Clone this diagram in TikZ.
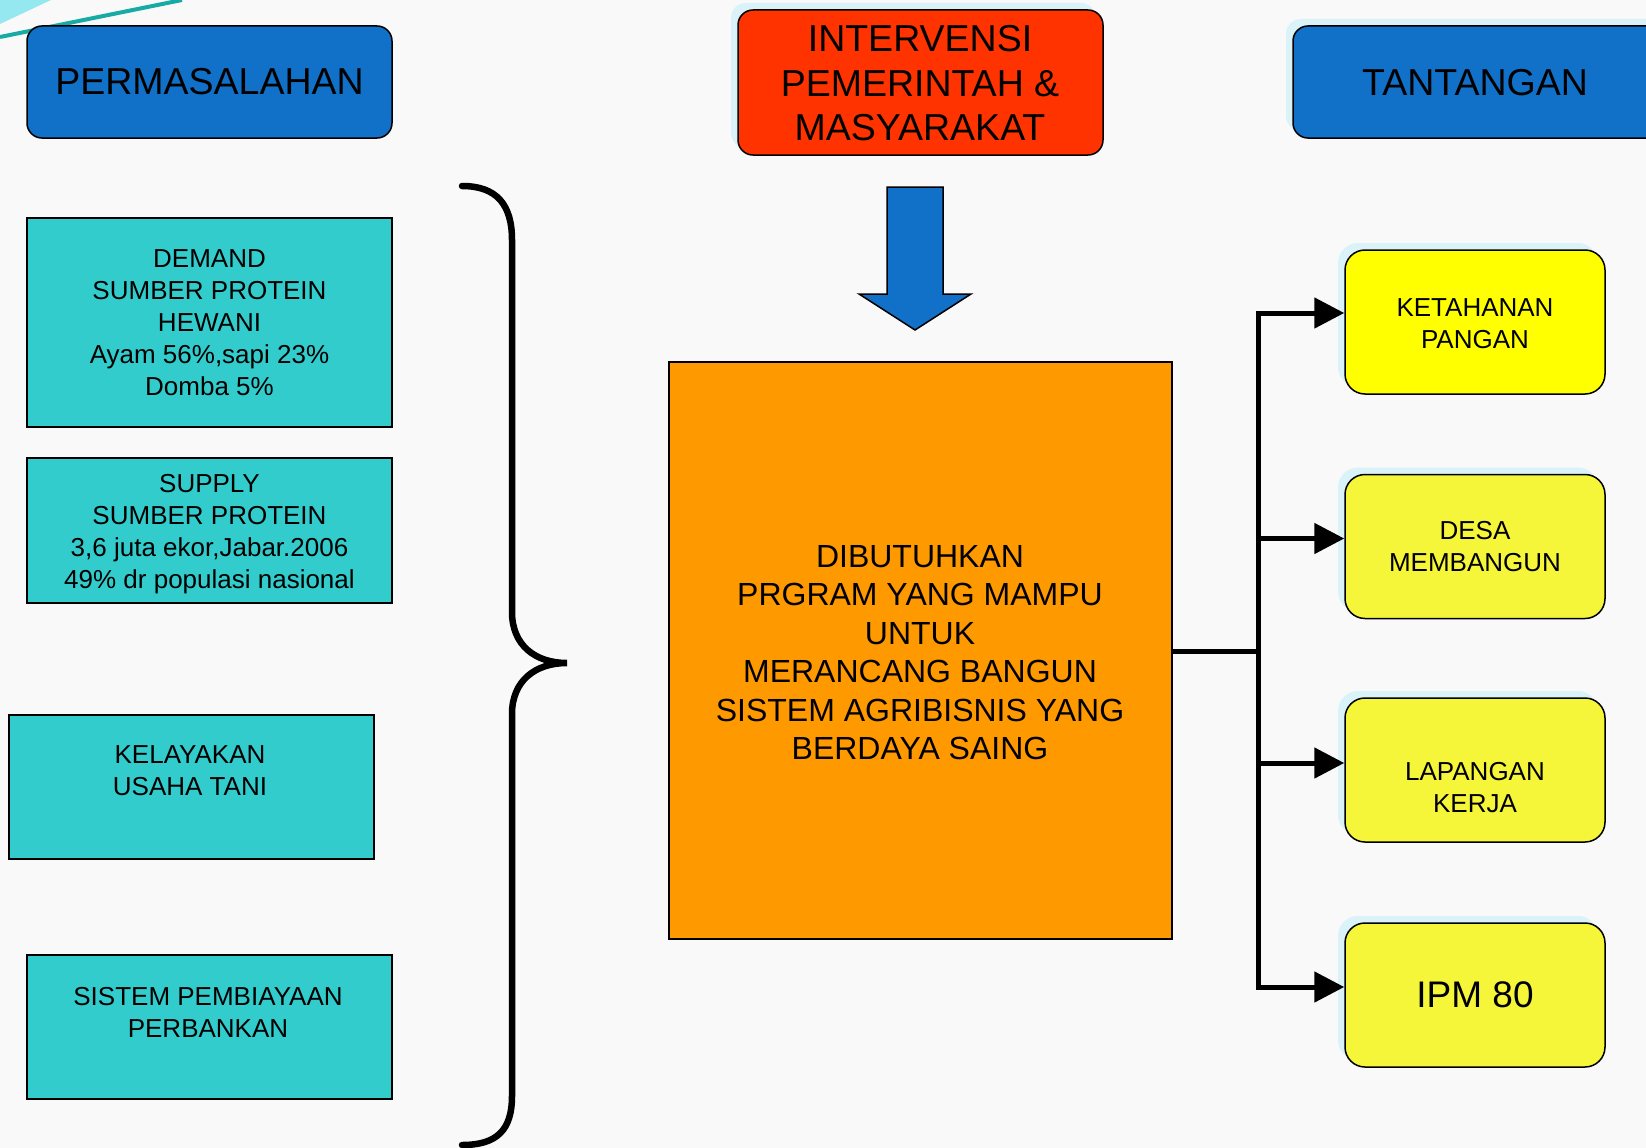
\documentclass[tikz,border=0pt]{standalone}
\usepackage{fontspec}
\setmainfont{Liberation Sans}
\usetikzlibrary{arrows.meta,shadows}
\definecolor{bgc}{RGB}{249,249,249}
\definecolor{hdrblue}{RGB}{17,112,199}
\definecolor{redbox}{RGB}{255,51,0}
\definecolor{tealbox}{RGB}{51,204,204}
\definecolor{orangebox}{RGB}{255,153,0}
\definecolor{yel}{RGB}{255,255,0}
\definecolor{yel2}{RGB}{245,245,58}
\definecolor{shadowc}{RGB}{218,243,248}
\definecolor{decoA}{RGB}{150,232,240}
\definecolor{decoB}{RGB}{24,170,165}
\tikzset{
  shade box/.style={drop shadow={fill=shadowc,opacity=1,shadow xshift=-7pt,shadow yshift=7pt}},
  hdr/.style={draw=black,line width=1.5pt,rounded corners=15pt,inner sep=0pt,align=center,
    font=\fontsize{37.5}{44.5}\selectfont},
  probbox/.style={draw=black,line width=1.5pt,fill=tealbox,inner sep=0pt,
    minimum width=365pt,align=center,font=\fontsize{26}{32}\selectfont},
  goalbox/.style={draw=black,line width=1.5pt,rounded corners=20pt,inner sep=0pt,
    minimum width=260pt,minimum height=144pt,align=center,shade box,
    font=\fontsize{26}{32}\selectfont},
  txt/.style={inner sep=0pt,align=center,font=\fontsize{26}{32}\selectfont},
  link/.style={line width=5pt,-{Triangle[length=30pt,width=30pt]}},
}
\begin{document}
\begin{tikzpicture}[x=1pt,y=-1pt]
\useasboundingbox (0,0) rectangle (1646,1148);
\clip (0,0) rectangle (1646,1148);
\fill[bgc] (0,0) rectangle (1646,1148);
% top-left decoration
\fill[decoA] (0,0) -- (51,0) -- (0,24) -- cycle;
\draw[decoB,line width=4pt] (0,37) -- (182,0);
% headers
\node[hdr,fill=hdrblue,minimum width=365pt,minimum height=112pt] (perm) at (209.5,82) {PERMASALAHAN};
\node[hdr,fill=redbox,shade box,minimum width=365pt,minimum height=145pt] (interv) at (920.5,82.5) {};
\node[inner sep=0pt,align=center,font=\fontsize{37.5}{44.5}\selectfont] (intervtxt) at (920,83.5)
  {INTERVENSI\\PEMERINTAH \&\\MASYARAKAT};
\node[hdr,fill=hdrblue,shade box,minimum width=380pt,minimum height=112pt] (tant) at (1483,82) {};
\node[inner sep=0pt,font=\fontsize{37.5}{44.5}\selectfont] (tanttxt) at (1475,83) {TANTANGAN};
% problem boxes
\node[probbox,minimum height=209pt] (demand) at (209.5,322.5)
  {DEMAND\\SUMBER PROTEIN\\HEWANI\\Ayam 56\%,sapi 23\%\\Domba 5\%};
\node[probbox,minimum height=145pt] (supply) at (209.5,530.5) {};
\node[txt] (supplytxt) at (209.5,534.5)
  {SUPPLY\\SUMBER PROTEIN\\3,6 juta ekor,Jabar.2006\\49\% dr populasi nasional};
\node[probbox,minimum height=144pt] (layak) at (191.5,787) {};
\node[txt] (layaktxt) at (190,771) {KELAYAKAN\\USAHA TANI};
\node[probbox,minimum height=144pt] (biaya) at (209.5,1027) {};
\node[txt] (biayatxt) at (208,1012.5) {SISTEM PEMBIAYAAN\\PERBANKAN};
% brace
\draw[line width=6.5pt,line cap=round] (462,186) .. controls (497,186) and (512,205) .. (512,240)
  -- (512,612) .. controls (512,645) and (535,663) .. (567,663)
  .. controls (535,663) and (512,681) .. (512,714)
  -- (512,1096) .. controls (512,1130) and (497,1145) .. (462,1145);
% blue arrow
\filldraw[fill=hdrblue,draw=black,line width=1.5pt,line join=miter]
  (887,187) -- (943,187) -- (943,294) -- (971,294) -- (915,330) -- (859,294) -- (887,294) -- cycle;
% central box
\node[draw=black,line width=1.5pt,fill=orangebox,minimum width=503pt,minimum height=577pt,
  inner sep=0pt] (prog) at (920.5,650.5) {};
\node[inner sep=0pt,align=center,font=\fontsize{32}{38.5}\selectfont] (progtxt) at (920,652.5)
  {DIBUTUHKAN\\PRGRAM YANG MAMPU\\UNTUK\\MERANCANG BANGUN\\SISTEM AGRIBISNIS YANG\\BERDAYA SAING};
% goal boxes
\node[goalbox,fill=yel] (ketahanan) at (1475,322) {};
\node[txt] (ketahanantxt) at (1475,324) {KETAHANAN\\PANGAN};
\node[goalbox,fill=yel2] (desa) at (1475,546.5) {DESA\\MEMBANGUN};
\node[goalbox,fill=yel2] (lapangan) at (1475,770) {};
\node[txt] (lapangantxt) at (1475,788) {LAPANGAN\\KERJA};
\node[goalbox,fill=yel2,font=\fontsize{37}{43}\selectfont] (ipm) at (1475,995) {IPM 80};
% connectors
\coordinate (hub) at (1258,651);
\draw[line width=5pt] (prog.east |- hub) -- (hub);
\draw[link] (hub) |- ([yshift=9pt]ketahanan.west);
\draw[link] (hub) |- ([yshift=8pt]desa.west);
\draw[link] (hub) |- ([yshift=7pt]lapangan.west);
\draw[link] (hub) |- ([yshift=8pt]ipm.west);
\end{tikzpicture}
\end{document}
